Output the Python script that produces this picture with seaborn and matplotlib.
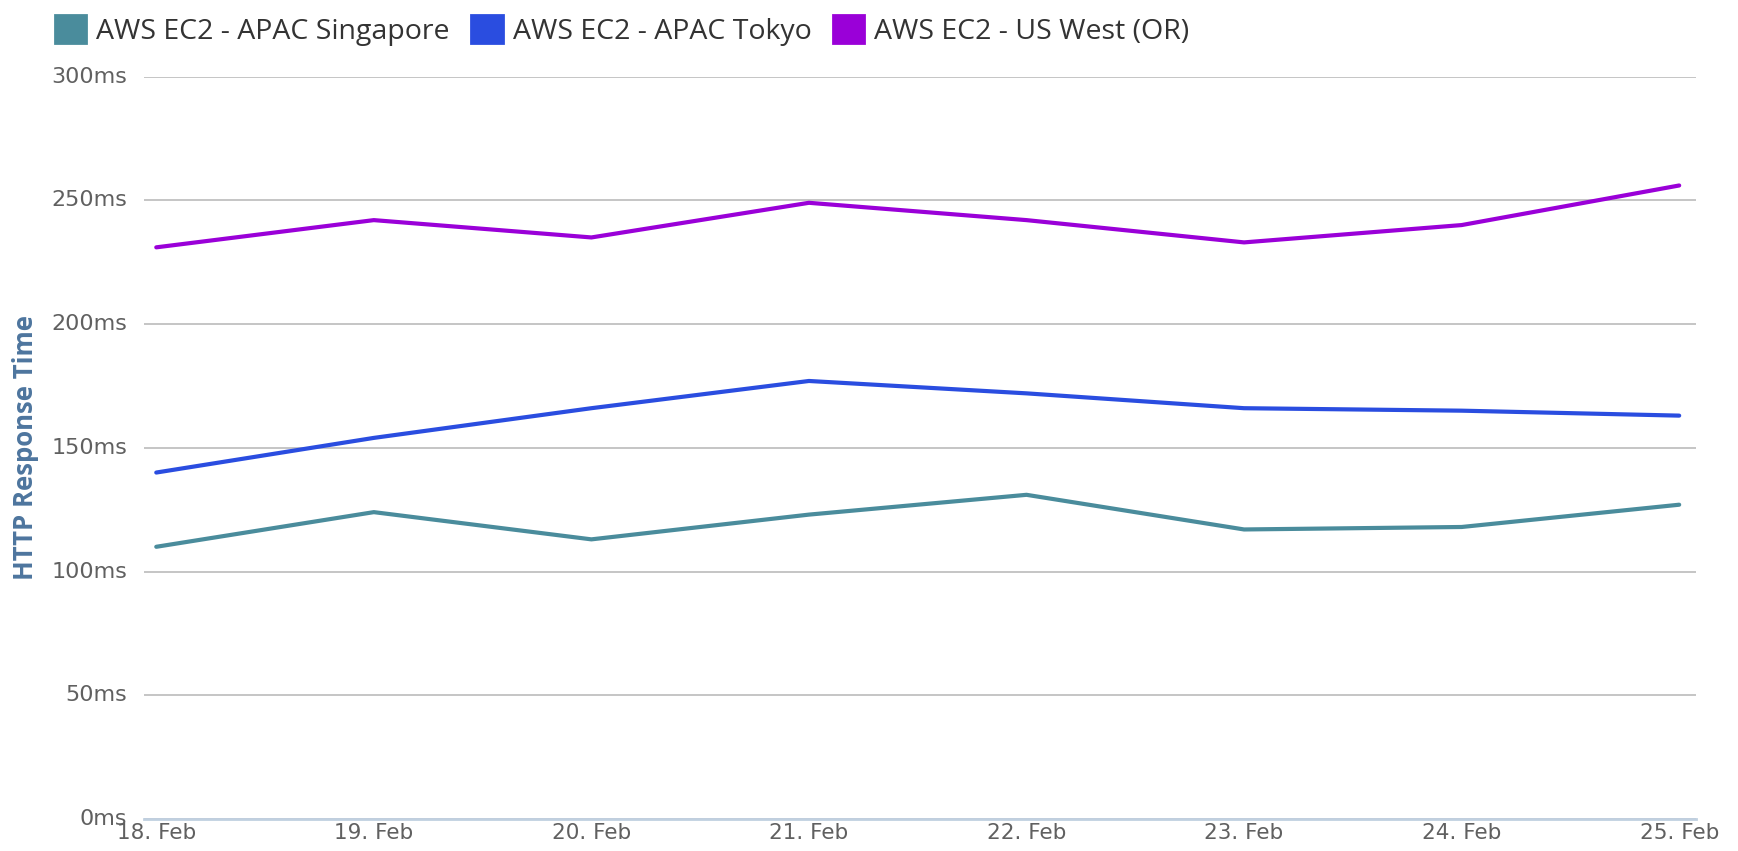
import matplotlib
matplotlib.use("Agg")
import matplotlib.pyplot as plt
from matplotlib.patches import Patch
import seaborn as sns
import pandas as pd

# ----------------------------
# Data: HTTP response time per region
# ----------------------------
days = ["18. Feb", "19. Feb", "20. Feb", "21. Feb", "22. Feb", "23. Feb", "24. Feb", "25. Feb"]
singapore = [110, 124, 113, 123, 131, 117, 118, 127]
tokyo = [140, 154, 166, 177, 172, 166, 165, 163]
us_west = [231, 242, 235, 249, 242, 233, 240, 256]
series = ["AWS EC2 - APAC Singapore", "AWS EC2 - APAC Tokyo", "AWS EC2 - US West (OR)"]
colors = ["#4a8c9c", "#2a4de0", "#9a00d8"]
y_ticks = [0, 50, 100, 150, 200, 250, 300]

rows = []
for name, vals in zip(series, [singapore, tokyo, us_west]):
    for i, v in enumerate(vals):
        rows.append({"day": i, "ms": v, "series": name})
df = pd.DataFrame(rows)

sns.set_style("white")
plt.rcParams["font.family"] = ["DejaVu Sans"]

fig = plt.figure(figsize=(17.38, 8.51), dpi=100)
ax = fig.add_axes([0.0829, 0.0376, 0.8929, 0.8724])

sns.lineplot(data=df, x="day", y="ms", hue="series", palette=colors,
             hue_order=series, linewidth=3, legend=False, ax=ax)

ax.set_xlim(-0.056, 7.077)
ax.set_ylim(0, 300)
ax.set_yticks(y_ticks)
ax.set_yticklabels([f"{t}ms" for t in y_ticks])
ax.set_xticks(range(len(days)))
ax.set_xticklabels(days)

ax.grid(axis="y", color="#c0c0c0", linewidth=1.3)
ax.grid(axis="x", visible=False)
for s in ["top", "right", "left"]:
    ax.spines[s].set_visible(False)
ax.spines["bottom"].set_color("#c0d0e0")
ax.spines["bottom"].set_linewidth(2)
ax.spines["bottom"].set_zorder(5)

ax.tick_params(axis="y", length=0, pad=12, labelsize=16, labelcolor="#606060")
ax.tick_params(axis="x", length=8, width=1, color="#c0d0e0", direction="out",
               pad=-5, labelsize=15.5, labelcolor="#606060")
for lbl in ax.get_yticklabels():
    lbl.set_verticalalignment("center")

ax.set_xlabel("")
ax.set_ylabel("HTTP Response Time", fontsize=18.5, fontweight="bold", color="#4d759e",
              family=["Open Sans", "DejaVu Sans"])
ax.yaxis.set_label_coords(-0.068, 0.5)

handles = [Patch(facecolor=c, edgecolor=c, linewidth=2, joinstyle="round") for c in colors]
fig.legend(handles, series, loc="upper left", bbox_to_anchor=(0.017, 1.012), ncol=3,
           frameon=False, handlelength=1.1, handleheight=1.1, handletextpad=0.35,
           columnspacing=0.75, prop={"family": ["Open Sans", "DejaVu Sans"], "size": 20.5},
           labelcolor="#333333")

fig.savefig("out.png", dpi=100)
